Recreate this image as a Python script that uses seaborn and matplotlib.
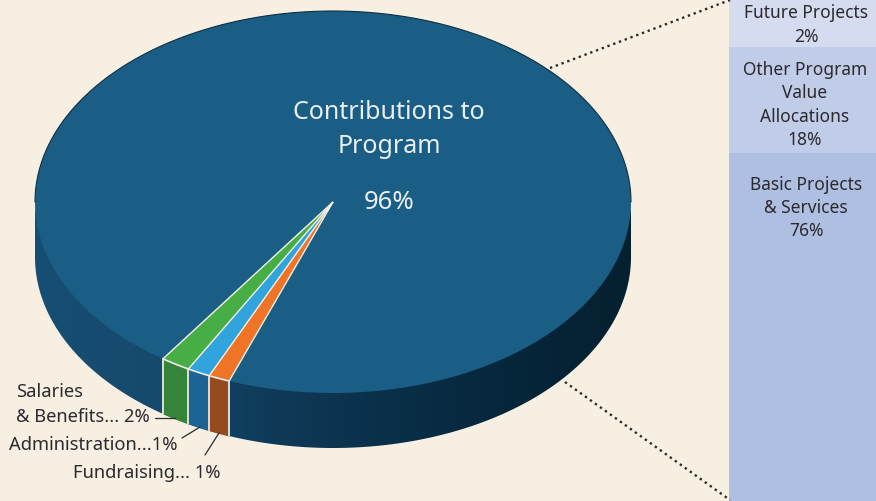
#3D style pie of contributions with a stacked bar breakdown on the right

#Import modules
import matplotlib
matplotlib.use('Agg')
import matplotlib.pyplot as plt
import numpy as np
import seaborn as sns
from matplotlib.patches import Polygon

#Chart data, small slices (labels show them rounded)
pie_names = ['Contributions', 'Salaries', 'Administration', 'Fundraising']
pie_values = [96, 1.6, 1.25, 1.15]
stack_names = ['Basic Projects\n& Services', 'Other Program\nValue\nAllocations', 'Future Projects']
stack_values = [76, 18, 2]

#Colours
bg = '#f7f0e2'
top_colors = ['#1b5e85', '#46ae44', '#31a3dd', '#ef7426']
side_colors = ['#35843a', '#1d6496', '#954a20']
stack_colors = ['#aebfe2', '#c1cde8', '#d6dcf0']
ink = '#2b2a2e'

sns.set_theme(style='white')
plt.rcParams['font.family'] = ['Noto Sans', 'DejaVu Sans']

W, H = 876, 502
cx, cy, rx, ry = 333, 203, 298, 191
depth = 55 / ry
start = 249.6

fig = plt.figure(figsize=(W / 100, H / 100), dpi=100, facecolor=bg)

#Pie axes, unit circle stretched to an ellipse
ax = fig.add_axes([0, 0, 1, 1])
ax.patch.set_alpha(0)
limx = (-cx / rx, (W - cx) / rx)
limy = (-(H - cy) / ry, cy / ry)

#Side wall with a left to right shade
t = np.radians(np.linspace(180, 360, 300))
wall = Polygon(np.r_[np.c_[np.cos(t), np.sin(t) + 0.02],
                     np.c_[np.cos(t[::-1]), np.sin(t[::-1]) - depth]], closed=True,
               transform=ax.transData, fc='none', ec='none')
ax.add_patch(wall)
cmap = sns.blend_palette(['#174e73', '#164a6d', '#0e3a58', '#0a2f48', '#06263b', '#05202f'], as_cmap=True)
im = ax.imshow(np.linspace(0, 1, 256)[None, :], extent=(-1, 1, limy[0], limy[1]),
               aspect='auto', cmap=cmap, zorder=1)
im.set_clip_path(wall)

#Top face
wedges, _ = ax.pie(pie_values, startangle=start, counterclock=True, colors=top_colors,
                   radius=1, center=(0, 0), wedgeprops={'linewidth': 0})
for w in wedges:
    w.set_zorder(3)
ax.set_aspect('auto')
ax.set_xlim(limx)
ax.set_ylim(limy)
ax.axis('off')

#Thin dark outline on the far rim
t = np.radians(np.linspace(0, 180, 300))
ax.plot(np.cos(t), np.sin(t), color='#0f2f44', lw=0.8, zorder=4)

#Stripes on the wall under the small slices, white edges on top
edges = start + 360 * np.cumsum(pie_values) / np.sum(pie_values)
for a0, a1, c in zip(edges[:-1], edges[1:], side_colors):
    th = np.radians(np.linspace(a0, a1, 20))
    ax.fill_between(np.cos(th), np.sin(th), np.sin(th) - depth, color=c, lw=0, zorder=2)
    ax.plot(np.cos(th), np.sin(th), color='#f2efe6', lw=1.2, zorder=4)
for a in edges:
    x, y = np.cos(np.radians(a)), np.sin(np.radians(a))
    ax.plot([0, x], [0, y], color='#f2efe6', lw=1.0, zorder=4, solid_capstyle='butt')
    ax.plot([x, x], [y, y - depth], color='#dfe0d6', lw=1.4, zorder=4, solid_capstyle='butt')

#Stacked bar, the picture gives each band its own height so the scale is piecewise
bar_ax = fig.add_axes([729 / W, 0, 1 - 729 / W, 1])
cum = np.r_[0, np.cumsum(stack_values)]
px = [0, 348, 454, 502]
bar_ax.set_yscale('function', functions=(lambda v: np.interp(v, cum, px),
                                         lambda p: np.interp(p, px, cum)))
for b, v, c in zip(cum[:-1], stack_values, stack_colors):
    sns.barplot(x=[0], y=[v], bottom=b, color=c, width=1, saturation=1, linewidth=0, ax=bar_ax)
bar_ax.set_xlim(-0.5, 0.5)
bar_ax.set_ylim(0, cum[-1])
bar_ax.axis('off')

#Overlay in pixel coordinates for text and lines
ov = fig.add_axes([0, 0, 1, 1])
ov.set_xlim(0, W)
ov.set_ylim(H, 0)
ov.axis('off')
ov.patch.set_alpha(0)

face = '#e9eff2'
ov.text(389, 112.5, 'Contributions to', color=face, fontsize=18, ha='center', va='center')
ov.text(389, 146.5, 'Program', color=face, fontsize=18, ha='center', va='center')
ov.text(389, 202.5, f'{pie_values[0]}%', color=face, fontsize=18.5, ha='center', va='center')

ov.text(806, 25, f'{stack_names[2]}\n{stack_values[2]}%', color=ink, fontsize=12.5,
        ha='center', va='center', linespacing=1.39)
ov.text(805, 105, f'{stack_names[1]}\n{stack_values[1]}%', color=ink, fontsize=12.5,
        ha='center', va='center', linespacing=1.39)
ov.text(806, 208, f'{stack_names[0]}\n{stack_values[0]}%', color=ink, fontsize=12.5,
        ha='center', va='center', linespacing=1.39)

ov.text(16, 392, 'Salaries', color=ink, fontsize=13.2, va='center')
ov.text(16, 417, f'& Benefits... {round(pie_values[1])}%', color=ink, fontsize=13.2, va='center')
ov.text(9, 445, f'Administration...{round(pie_values[2])}%', color=ink, fontsize=13.2, va='center')
ov.text(73, 473, f'Fundraising... {round(pie_values[3])}%', color=ink, fontsize=13.2, va='center')

ov.plot([155, 175], [419, 419], color=ink, lw=0.9)
ov.plot([182, 200], [439, 428], color=ink, lw=0.9)
ov.plot([205, 219], [456, 434], color=ink, lw=0.9)

ov.plot([550, 730], [69, 1], color=ink, lw=1.7, ls=(0, (1, 1.6)))
ov.plot([565, 730], [383, 501], color=ink, lw=1.7, ls=(0, (1, 1.6)))

fig.savefig('out.png', dpi=100, facecolor=bg)
